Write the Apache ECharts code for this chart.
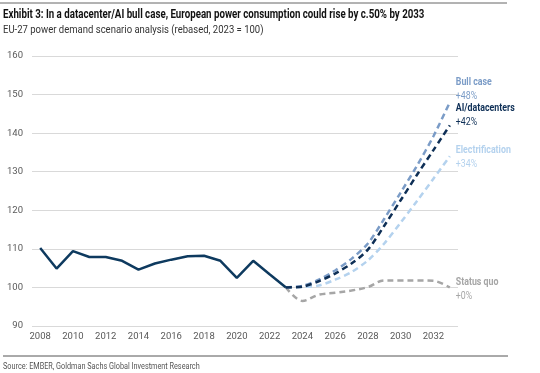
<!DOCTYPE html>
<html><head><meta charset="utf-8">
<script src="https://cdn.jsdelivr.net/npm/echarts@6/dist/echarts.min.js"></script>
<style>html,body{margin:0;padding:0;background:#fff}#c{width:540px;height:373px}</style>
</head><body><div id="c"></div>
<script>
var years = ['2008','2009','2010','2011','2012','2013','2014','2015','2016','2017','2018','2019','2020','2021','2022','2023','2024','2025','2026','2027','2028','2029','2030','2031','2032','2033'];
var historyData = [110.2,104.9,109.4,107.9,107.9,106.9,104.6,106.2,107.2,108.1,108.2,106.9,102.5,106.9,103.4,100];
var statusQuo = [100,96.5,98.1,98.6,99.2,100.1,101.8,101.8,101.8,101.7,100];
var electrification = [100,100.1,100.5,102,104,107,111.4,116.8,122.4,128.2,134];
var aiDatacenters = [100,100.2,101.6,103.6,106.2,109.8,116,122.6,129.2,135.6,142];
var bullCase = [100,100.4,102,104.4,107.4,111.4,117.8,124.6,131.6,139.2,148];
var labelNames = ['Bull case', 'AI/datacenters', 'Electrification', 'Status quo'];
var labelChanges = ['+48%', '+42%', '+34%', '+0%'];
var yTicks = {min: 90, max: 160, interval: 10};

var FONT = "Roboto,'Liberation Sans',sans-serif";
function pad(arr){ var out = []; for (var i=0;i<15;i++) out.push(null); return out.concat(arr); }
function dashed(name, data, color, smooth){
  return {
    name: name, type: 'line', data: pad(data), symbol: 'none', smooth: smooth,
    lineStyle: {color: color, width: 2.5, type: [6,4]}, z: 2
  };
}
var colors = {sq: '#a6a6a6', elec: '#b4d2ee', bull: '#7b9cc7', ai: '#0e2f56', hist: '#0e3a5f'};
var chart = echarts.init(document.getElementById('c'), null, {renderer: 'canvas'});
chart.setOption({
  animation: false,
  grid: {left: 32, right: 82, top: 56, bottom: 47, containLabel: false},
  xAxis: {
    type: 'category', data: years, boundaryGap: true,
    axisLine: {show: false}, axisTick: {show: false},
    axisLabel: {interval: 1, color: '#595959', fontFamily: FONT, fontSize: 9.5, margin: 6}
  },
  yAxis: {
    type: 'value', min: yTicks.min, max: yTicks.max, interval: yTicks.interval,
    axisLine: {show: false}, axisTick: {show: false},
    axisLabel: {color: '#595959', fontFamily: FONT, fontSize: 9.5, margin: 9},
    splitLine: {lineStyle: {color: '#d9d9d9', width: 1}}
  },
  series: [
    dashed('Status quo', statusQuo, colors.sq, 0.35),
    dashed('Electrification', electrification, colors.elec, 0.3),
    dashed('Bull case', bullCase, colors.bull, 0.3),
    dashed('AI/datacenters', aiDatacenters, colors.ai, 0.3),
    {name: 'History', type: 'line', data: historyData, symbol: 'none',
     lineStyle: {color: colors.hist, width: 2.5}, z: 3}
  ]
});

var ends = [
  {v: bullCase[bullCase.length-1], c: colors.bull, off: -13},
  {v: aiDatacenters[aiDatacenters.length-1], c: colors.ai, off: -10},
  {v: electrification[electrification.length-1], c: colors.elec, off: 1},
  {v: statusQuo[statusQuo.length-1], c: colors.sq, off: 2}
];
var graphics = [
  {type: 'line', shape: {x1: 0, y1: 3, x2: 507, y2: 3}, style: {stroke: '#666', lineWidth: 1}},
  {type: 'text', x: 3, y: 9, scaleX: 0.81, style: {text: 'Exhibit 3: In a datacenter/AI bull case, European power consumption could rise by c.50% by 2033', font: "bold 12px " + FONT, fill: '#111', verticalAlign: 'top'}},
  {type: 'text', x: 3, y: 25, scaleX: 0.865, style: {text: 'EU-27 power demand scenario analysis (rebased, 2023 = 100)', font: "11px " + FONT, fill: '#333', verticalAlign: 'top'}},
  {type: 'line', shape: {x1: 3, y1: 356, x2: 508, y2: 356}, style: {stroke: '#555', lineWidth: 1}},
  {type: 'text', x: 3, y: 362, scaleX: 0.81, style: {text: 'Source: EMBER, Goldman Sachs Global Investment Research', font: "9px " + FONT, fill: '#555', verticalAlign: 'top'}}
];
ends.forEach(function(e, i){
  var p = chart.convertToPixel({xAxisIndex: 0, yAxisIndex: 0}, [years[years.length-1], e.v]);
  graphics.push({
    type: 'text', x: p[0] + 6, y: p[1] + e.off, scaleX: 0.8,
    style: {
      text: '{a|' + labelNames[i] + '}\n{b|' + labelChanges[i] + '}',
      verticalAlign: 'middle', align: 'left',
      rich: {
        a: {fontFamily: FONT, fontSize: 11, fontWeight: 'bold', fill: e.c, lineHeight: 13.5},
        b: {fontFamily: FONT, fontSize: 11, fill: e.c, lineHeight: 13.5}
      }
    }
  });
});
chart.setOption({graphic: graphics});
</script></body></html>
